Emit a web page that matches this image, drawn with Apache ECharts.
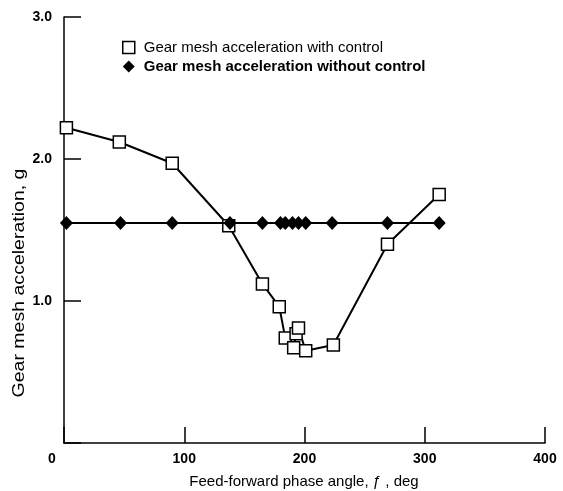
<!DOCTYPE html>
<html>
<head>
<meta charset="utf-8">
<script src="https://cdn.jsdelivr.net/npm/echarts@6/dist/echarts.min.js"></script>
<style>
  html, body { margin: 0; padding: 0; background: #fff; }
  #chart { width: 563px; height: 491px; }
</style>
</head>
<body>
<div id="chart"></div>
<script>
// Feed-forward phase angle (deg) and gear mesh acceleration (g)
const phaseWithControl = [2, 46, 90, 137, 165, 179, 184, 191, 193, 195, 201, 224, 269, 312];
const accelWithControl = [2.22, 2.12, 1.97, 1.53, 1.12, 0.96, 0.74, 0.67, 0.77, 0.81, 0.65, 0.69, 1.40, 1.75];
const phaseWithoutControl = [2, 47, 90, 138, 165, 180, 184, 190, 195, 201, 223, 269, 312];
const accelWithoutControl = [1.55, 1.55, 1.55, 1.55, 1.55, 1.55, 1.55, 1.55, 1.55, 1.55, 1.55, 1.55, 1.55];
const xTicks = [0, 100, 200, 300, 400];
const yTicks = [0, 1, 2, 3];

const nameWith = 'Gear mesh acceleration with control';
const nameWithout = 'Gear mesh acceleration without control';
const xTitle = 'Feed-forward phase angle, \u0192 , deg';
const yTitle = 'Gear mesh acceleration, g';

const zip = (xs, ys) => xs.map((x, i) => [x, ys[i]]);
const FONT = '"Liberation Sans", Arial, Helvetica, sans-serif';

const chart = echarts.init(document.getElementById('chart'), null, { renderer: 'canvas' });

chart.setOption({
  animation: false,
  backgroundColor: '#fff',
  grid: { left: 64, right: 18, top: 17, bottom: 48 },
  legend: {
    orient: 'vertical',
    left: 122,
    top: 40,
    padding: 0,
    itemWidth: 12,
    itemHeight: 12,
    itemGap: 4,
    selectedMode: false,
    textStyle: { fontFamily: FONT, fontSize: 15, color: '#000', padding: [0, 0, 0, 4] },
    data: [
      { name: nameWith, icon: 'rect',
        itemStyle: { color: '#fff', borderColor: '#000', borderWidth: 1.5 } },
      { name: nameWithout, icon: 'diamond',
        itemStyle: { color: '#000' },
        textStyle: { fontWeight: 'bold' } }
    ]
  },
  xAxis: {
    type: 'value',
    min: xTicks[0],
    max: xTicks[xTicks.length - 1],
    interval: xTicks[1] - xTicks[0],
    axisLine: { lineStyle: { color: '#000', width: 1.5 } },
    axisTick: { inside: true, length: 16, lineStyle: { color: '#000', width: 1.5 } },
    axisLabel: {
      color: '#000', fontFamily: FONT, fontSize: 14, fontWeight: 'bold', margin: 9,
      // the origin label sits a little left of the axis corner
      formatter: v => (v === 0 ? '{zero|0}' : String(v)),
      rich: { zero: { fontFamily: FONT, fontSize: 14, fontWeight: 'bold', color: '#000', padding: [0, 24, 0, 0] } }
    },
    splitLine: { show: false }
  },
  yAxis: {
    type: 'value',
    min: yTicks[0],
    max: yTicks[yTicks.length - 1],
    interval: yTicks[1] - yTicks[0],
    axisLine: { show: true, lineStyle: { color: '#000', width: 1.5 } },
    axisTick: { show: true, inside: true, length: 17, lineStyle: { color: '#000', width: 1.5 } },
    axisLabel: {
      color: '#000', fontFamily: FONT, fontSize: 14, fontWeight: 'bold', margin: 12,
      formatter: v => (v === 0 ? '' : v.toFixed(1))
    },
    splitLine: { show: false }
  },
  series: [
    {
      name: nameWith,
      type: 'line',
      data: zip(phaseWithControl, accelWithControl),
      symbol: 'rect',
      symbolSize: 12,
      showAllSymbol: true,
      itemStyle: { color: '#fff', borderColor: '#000', borderWidth: 1.5 },
      lineStyle: { color: '#000', width: 2 },
      z: 2
    },
    {
      name: nameWithout,
      type: 'line',
      data: zip(phaseWithoutControl, accelWithoutControl),
      symbol: 'diamond',
      symbolSize: [13, 14],
      showAllSymbol: true,
      itemStyle: { color: '#000' },
      lineStyle: { color: '#000', width: 2 },
      z: 3
    }
  ],
  graphic: [
    {
      type: 'text',
      x: 304, y: 482,
      style: { text: xTitle, font: '15px ' + FONT, fill: '#000', align: 'center', verticalAlign: 'middle' }
    },
    {
      type: 'text',
      x: 20, y: 283,
      rotation: Math.PI / 2,
      scaleX: 1.22,
      style: { text: yTitle, font: '16px ' + FONT, fill: '#000', align: 'center', verticalAlign: 'middle' }
    }
  ]
});
</script>
</body>
</html>
